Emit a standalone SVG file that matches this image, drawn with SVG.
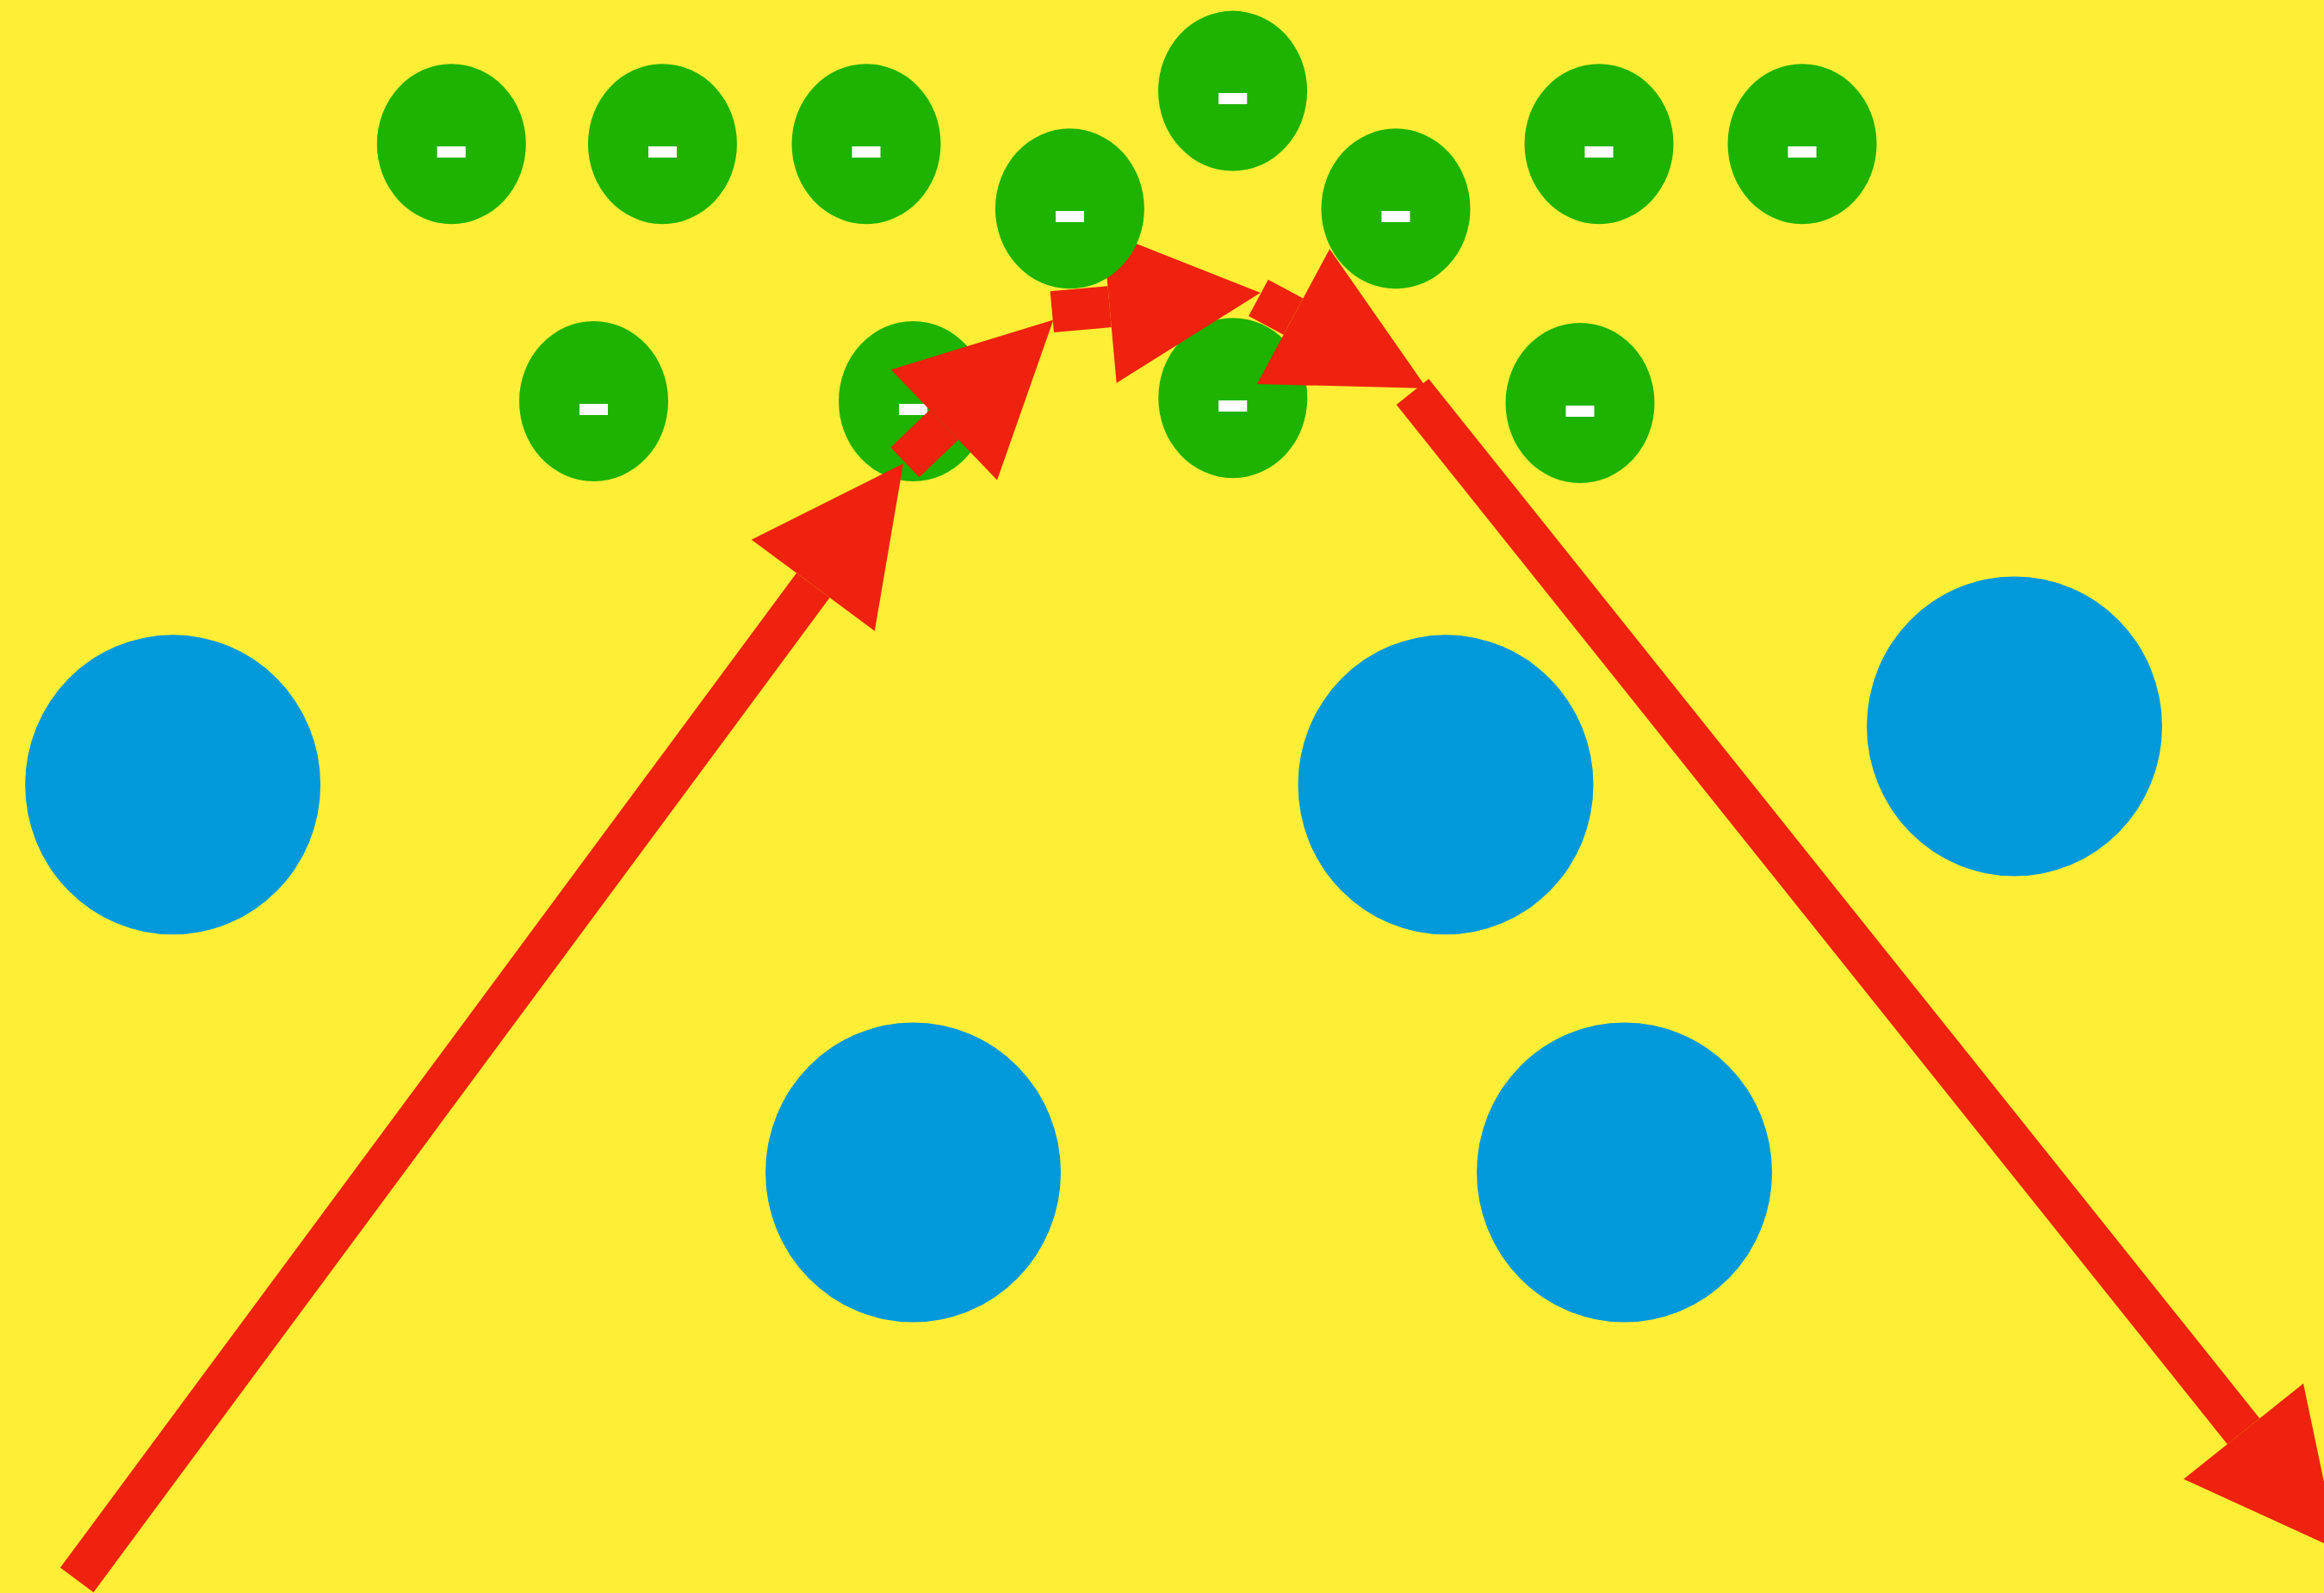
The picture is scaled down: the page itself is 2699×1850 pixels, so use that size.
<svg xmlns="http://www.w3.org/2000/svg" width="2699" height="1850" viewBox="0 0 2699 1850">
<defs>
<style>
.bg{fill:#FFEE36}
.blue{fill:#0299DB}
.green{fill:#1DB300}
.lbl{fill:#FFFFFF;font-family:"Liberation Sans",Arial,sans-serif;font-size:135px;text-anchor:middle}
.edge{stroke:#EE220F;stroke-width:48;fill:none;stroke-linecap:butt;marker-end:url(#head)}
</style>
<marker id="head" markerUnits="userSpaceOnUse" viewBox="0 -89 176 178" markerWidth="176" markerHeight="178" refX="0" refY="0" orient="auto" overflow="visible">
<path d="M0,-89 L176,0 L0,89 z" fill="#EE220F"/>
</marker>
</defs>
<rect class="bg" x="0" y="0" width="2699" height="1850"/>
<g id="b1"><ellipse class="blue" cx="200.7" cy="911.3" rx="171.5" ry="174"/></g>
<g id="b2"><ellipse class="blue" cx="1679" cy="911.3" rx="171.5" ry="174"/></g>
<g id="b3"><ellipse class="blue" cx="2339.5" cy="843.5" rx="171.5" ry="174"/></g>
<g id="b4"><ellipse class="blue" cx="1060.5" cy="1361.5" rx="171.5" ry="174"/></g>
<g id="b5"><ellipse class="blue" cx="1886.5" cy="1361.5" rx="171.5" ry="174"/></g>
<g id="g9"><ellipse class="green" cx="689.5" cy="466" rx="86.5" ry="93"/><text class="lbl" transform="translate(689.5,519.6) scale(1,1.24)">-</text></g>
<g id="g10"><ellipse class="green" cx="1060.5" cy="466" rx="86.5" ry="93"/><text class="lbl" transform="translate(1060.5,519.6) scale(1,1.24)">-</text></g>
<g id="g11"><ellipse class="green" cx="1431.8" cy="462.2" rx="86.5" ry="93"/><text class="lbl" transform="translate(1431.8,515.8) scale(1,1.24)">-</text></g>
<g id="g12"><ellipse class="green" cx="1835" cy="468" rx="86.5" ry="93"/><text class="lbl" transform="translate(1835,521.6) scale(1,1.24)">-</text></g>
<g id="connectors">
<line class="edge" x1="89.3" y1="1834.9" x2="944.3" y2="679.8"/>
<line class="edge" x1="1051" y1="537" x2="1096.4" y2="493.4"/>
<line class="edge" x1="1221.8" y1="362.2" x2="1288.6" y2="356.1"/>
<line class="edge" x1="1461.5" y1="345.8" x2="1502" y2="367.6"/>
<line class="edge" x1="1640.5" y1="455" x2="2605.5" y2="1662.2"/>
</g>
<g id="g1"><ellipse class="green" cx="524.3" cy="167.2" rx="86.5" ry="93"/><text class="lbl" transform="translate(524.3,220.8) scale(1,1.24)">-</text></g>
<g id="g2"><ellipse class="green" cx="769.4" cy="167.2" rx="86.5" ry="93"/><text class="lbl" transform="translate(769.4,220.8) scale(1,1.24)">-</text></g>
<g id="g3"><ellipse class="green" cx="1006" cy="167.2" rx="86.5" ry="93"/><text class="lbl" transform="translate(1006,220.8) scale(1,1.24)">-</text></g>
<g id="g4"><ellipse class="green" cx="1242.4" cy="242.3" rx="86.5" ry="93"/><text class="lbl" transform="translate(1242.4,295.9) scale(1,1.24)">-</text></g>
<g id="g5"><ellipse class="green" cx="1431.6" cy="105.6" rx="86.5" ry="93"/><text class="lbl" transform="translate(1431.6,159.2) scale(1,1.24)">-</text></g>
<g id="g6"><ellipse class="green" cx="1621" cy="242.3" rx="86.5" ry="93"/><text class="lbl" transform="translate(1621,295.9) scale(1,1.24)">-</text></g>
<g id="g7"><ellipse class="green" cx="1857" cy="167.2" rx="86.5" ry="93"/><text class="lbl" transform="translate(1857,220.8) scale(1,1.24)">-</text></g>
<g id="g8"><ellipse class="green" cx="2093" cy="167.2" rx="86.5" ry="93"/><text class="lbl" transform="translate(2093,220.8) scale(1,1.24)">-</text></g>
</svg>
